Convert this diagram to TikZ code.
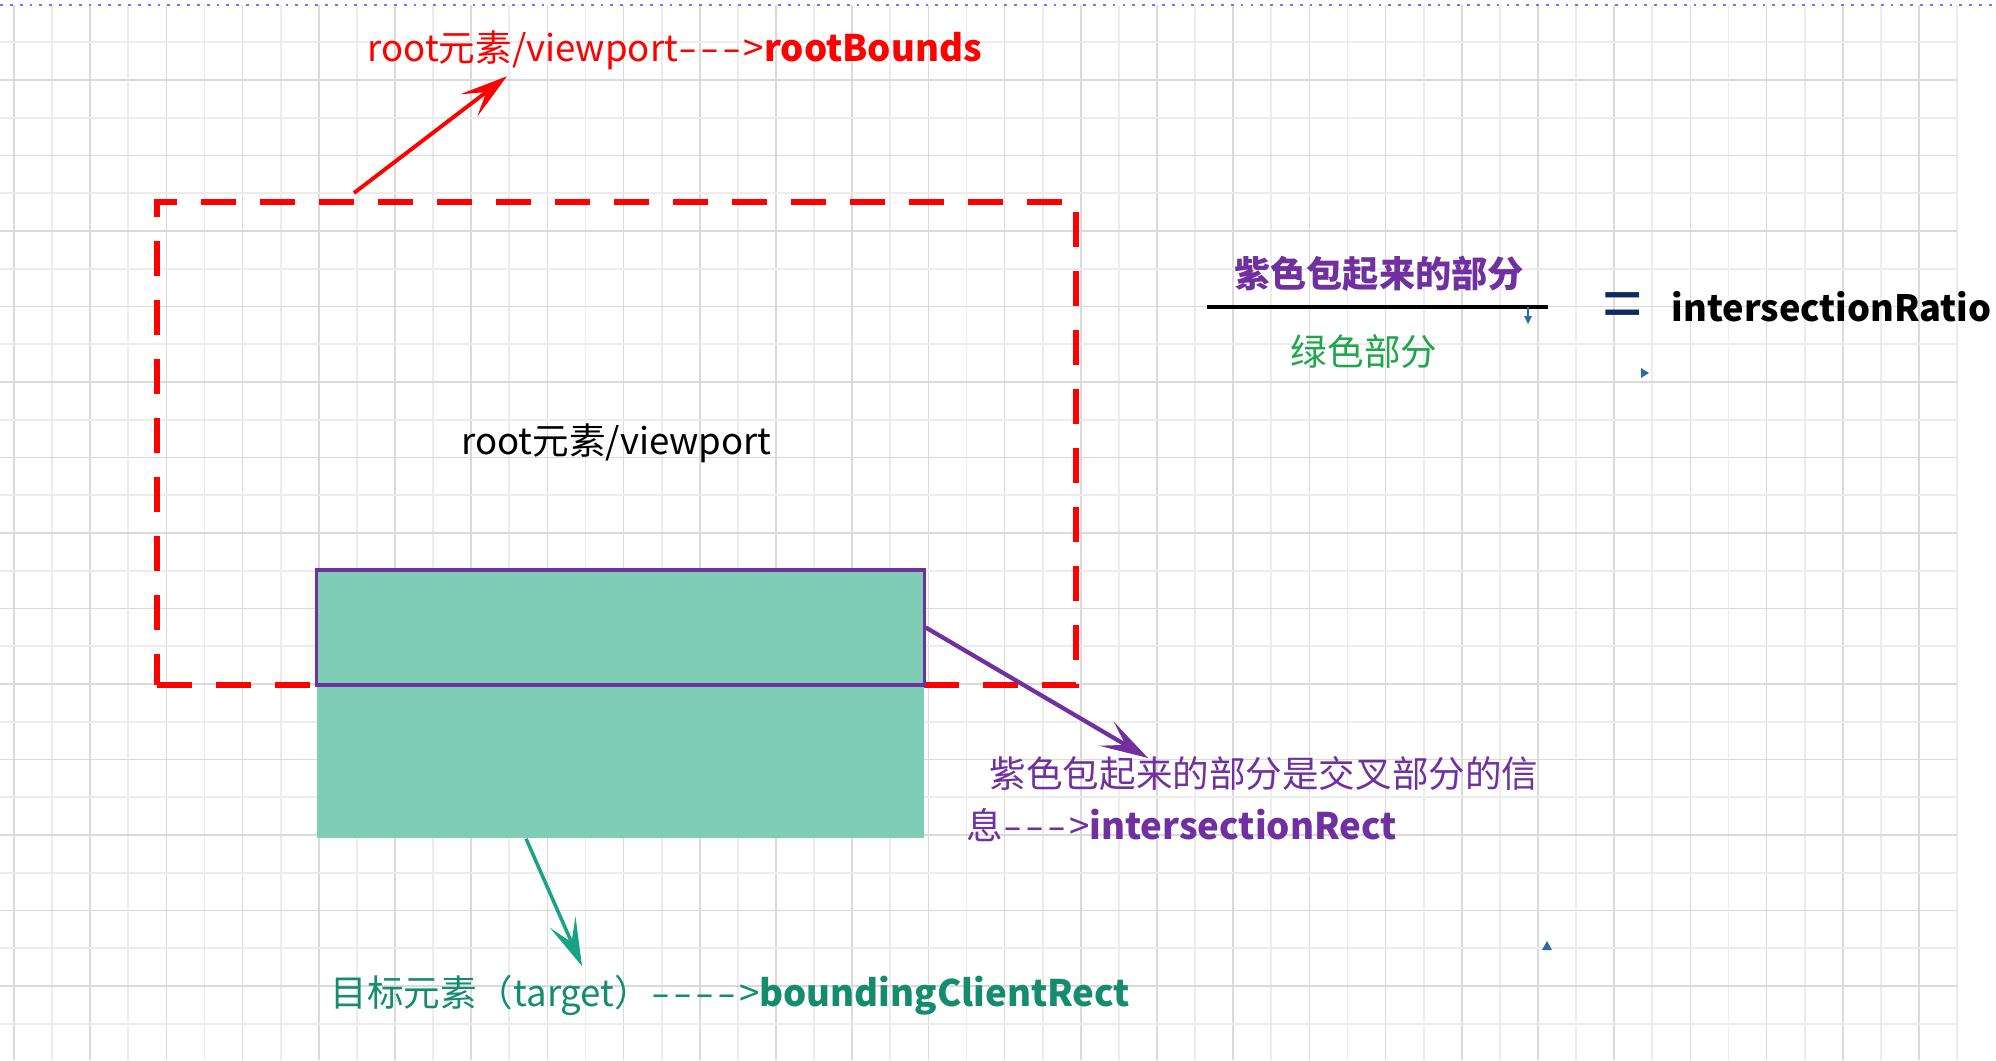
\documentclass[tikz,border=0pt]{standalone}
\usepackage{fontspec}
\setmainfont{Noto Sans CJK SC}[Ligatures=TeXOff]
\usetikzlibrary{arrows.meta,calc}

\definecolor{rootred}{HTML}{FF0000}
\definecolor{interpurple}{HTML}{7030A0}
\definecolor{targetfill}{HTML}{7FCDB4}
\definecolor{targetteal}{HTML}{168C6F}
\definecolor{arrowteal}{HTML}{17A385}
\definecolor{partgreen}{HTML}{1EA64B}
\definecolor{eqnavy}{HTML}{0E2A5E}
\definecolor{stubblue}{HTML}{2E6DA4}
\definecolor{gridmajor}{HTML}{DADADA}
\definecolor{gridminor}{HTML}{ECECEC}

% wide hyphen, as in the labels
\newcommand{\dsh}{\scalebox{1.5}[1]{-}\kern0.08em}

\begin{document}
\begin{tikzpicture}[x=0.01cm,y=-0.01cm,
    txt/.style={inner sep=0pt, font=\fontsize{10.4}{14.8}\selectfont},
    boldtxt/.style={inner sep=0pt, font=\fontsize{10.3}{12}\selectfont\bfseries},
    rootbox/.style={draw=rootred, line width=1.6pt, dash pattern=on 0.35cm off 0.24cm,
        minimum width=9.19cm, minimum height=4.83cm, inner sep=0pt, txt},
    targetbox/.style={fill=targetfill, minimum width=6.07cm, minimum height=2.68cm, inner sep=0pt},
    overlapbox/.style={draw=interpurple, line width=0.9pt, minimum width=6.07cm, minimum height=1.15cm, inner sep=0pt},
    longhead/.style={-{Stealth[length=0.48cm, width=0.28cm, inset=0.22cm]}},
    stub/.style={fill=stubblue, draw=none},
  ]
  \useasboundingbox (0,0) rectangle (1996,1060);

  % Grid
  \foreach \i in {0,...,51}{
    \pgfmathsetmacro{\gx}{14+38.1*\i}
    \ifodd\i \def\gc{gridminor}\else \def\gc{gridmajor}\fi
    \draw[\gc, line width=0.5pt] (\gx,5) -- (\gx,1060);
  }
  \foreach \j in {0,...,26}{
    \pgfmathsetmacro{\gy}{42.3+37.75*\j}
    \ifodd\j \def\gc{gridmajor}\else \def\gc{gridminor}\fi
    \draw[\gc, line width=0.5pt] (0,\gy) -- (1957,\gy);
  }
  \draw[blue!55, dotted, line width=0.8pt] (0,5) -- (1996,5);

  % root element / viewport
  \node[rootbox] (root) at (616.5,443.5) {root元素/viewport};
  \node[txt, text=rootred, anchor=west] (rootLabel) at (367,50)
    {root元素/viewport\dsh\dsh\dsh>\textbf{rootBounds}};
  \coordinate (rootTail) at (354,193);
  \coordinate (rootTip) at ($(rootLabel.south west)+(140,6)$);
  \draw[rootred, line width=1.1pt, longhead] (rootTail) -- (rootTip);

  % target element
  \node[targetbox] (target) at (620.5,704) {};
  \node[overlapbox] (overlap) at (620.5,627.5) {};
  \node[txt, text=targetteal, anchor=west] (targetLabel) at (330,995)
    {目标元素（target）\dsh\dsh\dsh\dsh>\textbf{boundingClientRect}};
  \draw[arrowteal, line width=1pt, longhead]
    ($(target.south west)+(210,0)$) -- ($(targetLabel.north west)+(252,-8)$);

  % intersection
  \node[txt, text=interpurple, anchor=north west, align=left] (interLabel) at (966,756)
    {\hspace{0.23cm}紫色包起来的部分是交叉部分的信\\息\dsh\dsh\dsh>\textbf{intersectionRect}};
  \draw[interpurple, line width=1.2pt, longhead]
    (overlap.east) -- ($(interLabel.north west)+(182,2)$);

  % ratio
  \node[boldtxt, text=interpurple] (purplePart) at (1379,274) {紫色包起来的部分};
  \draw[black, line width=1.2pt] (1207,307) -- (1548,307);
  \node[txt, text=partgreen] (greenPart) at (1364,352) {绿色部分};
  \node[txt, text=eqnavy, font=\fontsize{22}{22}\selectfont] (equals) at (1623,313) {\scalebox{0.6}[1]{＝}};
  \node[boldtxt, anchor=west] (ratio) at (1671,307) {intersectionRatio};

  % stray arrow ends
  \draw[stubblue, line width=0.5pt] (1528,307) -- (1528,318);
  \fill[stub] (1524,316) -- (1532,316) -- (1528,324) -- cycle;
  \fill[stub] (1641,368) -- (1649,373) -- (1641,378) -- cycle;
  \fill[stub] (1542,950) -- (1547,941) -- (1552,950) -- cycle;
\end{tikzpicture}
\end{document}
